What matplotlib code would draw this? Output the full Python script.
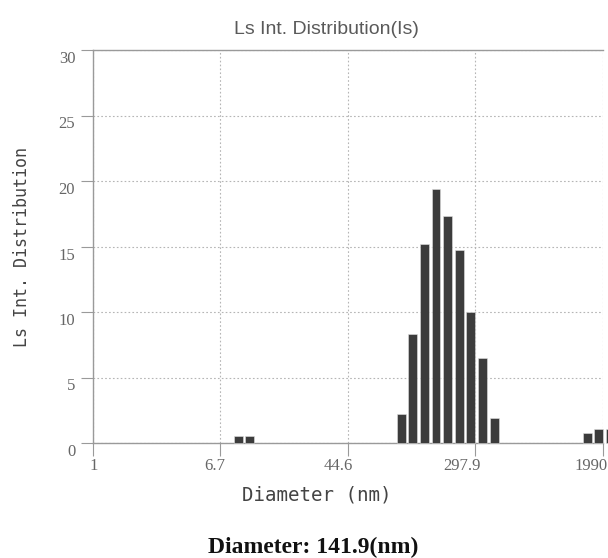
import numpy as np
import matplotlib
matplotlib.use("Agg")
import matplotlib.pyplot as plt
from matplotlib.transforms import ScaledTranslation

# ---- data ----
# bin centres on a log grid (log10 step ~0.0752)
log_start = 1.994
log_step = 0.0752
bin_index = [-14, -13, 0, 1, 2, 3, 4, 5, 6, 7, 8, 16, 17, 18]
intensity = [0.5, 0.5, 2.2, 8.3, 15.2, 19.4, 17.3, 14.7, 10.0, 6.5, 1.9, 0.75, 1.1, 1.1]

x_ticks = [1, 6.7, 44.6, 297.9, 1990]
x_tick_labels = ["1", "6.7", "44.6", "297.9", "1990"]
y_ticks = [0, 5, 10, 15, 20, 25, 30]

title = "Ls Int. Distribution(Is)"
ylabel = "Ls Int. Distribution"
xlabel = "Diameter (nm)"
footer = "Diameter: 141.9(nm)"

# ---- figure ----
fig = plt.figure(figsize=(6.08, 5.58), dpi=100)
ax = fig.add_axes([92.5 / 608, 115 / 558, (603 - 92.5) / 608, 393 / 558])

centers = 10 ** (log_start + log_step * np.array(bin_index))
bw = log_step * 0.77
lefts = centers * 10 ** (-bw / 2)
rights = centers * 10 ** (bw / 2)
ax.bar(lefts, intensity, width=rights - lefts, align="edge",
       color="#3c3c3c", edgecolor="#e0e0e0", linewidth=0.4, zorder=3,
       clip_on=False)

ax.set_xscale("log")
ax.set_xlim(1, 1990)
ax.set_ylim(0, 30)
ax.set_xticks(x_ticks)
ax.set_xticklabels(x_tick_labels)
ax.minorticks_off()
ax.set_yticks(y_ticks)

ax.grid(True, which="major", linestyle=(0, (1.5, 2.0)), color="#b5b5b5", linewidth=0.8, zorder=0)
for s in ["left", "bottom", "top"]:
    ax.spines[s].set_color("#9a9a9a")
    ax.spines[s].set_linewidth(1.0)
ax.spines["right"].set_visible(False)

ax.tick_params(axis="both", direction="out", length=9, width=0.8, color="#9a9a9a",
               labelcolor="#666666", labelsize=12, pad=2)
for lab in ax.get_yticklabels():
    lab.set_fontfamily("Liberation Serif")
    lab.set_transform(lab.get_transform() + ScaledTranslation(-2 / 100, -7 / 100, fig.dpi_scale_trans))
for lab in ax.get_xticklabels():
    lab.set_fontfamily("Liberation Serif")
    lab.set_horizontalalignment("right")
    lab.set_transform(lab.get_transform() + ScaledTranslation(5 / 100, 0, fig.dpi_scale_trans))

fig.text(326 / 608, 1 - 30 / 558, title, ha="center", va="center",
         fontsize=14, color="#5a5a5a", family="Liberation Sans")
fig.text(22 / 608, 1 - 247 / 558, ylabel, ha="center", va="center", rotation=90,
         fontsize=12, color="#444444", family="DejaVu Sans Mono")
fig.text(317 / 608, 1 - 495 / 558, xlabel, ha="center", va="center",
         fontsize=13.8, color="#444444", family="DejaVu Sans Mono")
fig.text(313 / 608, 1 - 547 / 558, footer, ha="center", va="center",
         fontsize=17, color="#111111", family="Liberation Serif", fontweight="bold")

fig.savefig("out.png", dpi=100)
